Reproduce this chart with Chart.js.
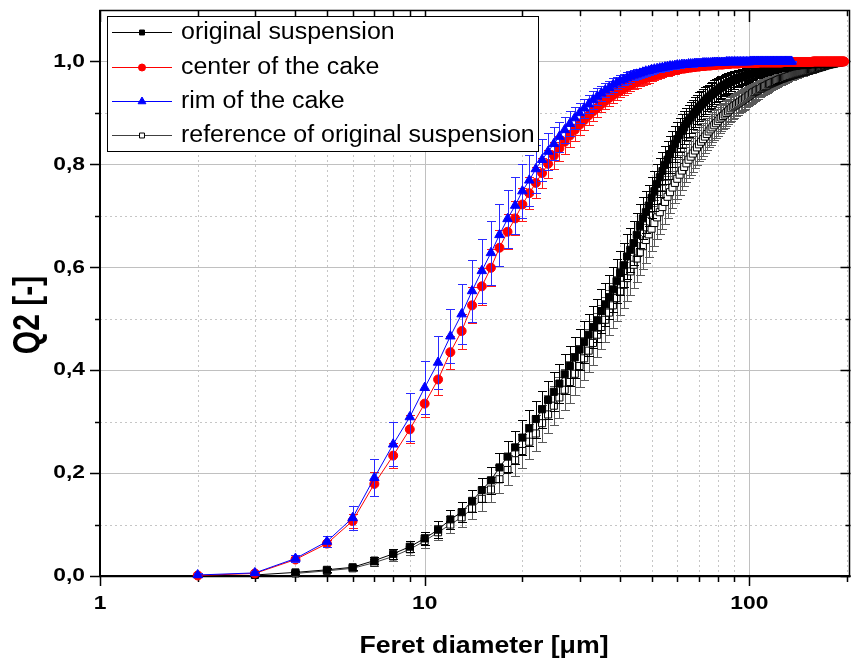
<!DOCTYPE html>
<html>
<head>
<meta charset="utf-8">
<script src="https://cdn.jsdelivr.net/npm/chart.js@4.4.1/dist/chart.umd.min.js"></script>
<style>
  html, body { margin: 0; padding: 0; background: #fff; }
</style>
</head>
<body>
<canvas id="myChart" width="857" height="663"></canvas>
<script>
// Feret diameter classes (um), one row = 10 classes
const feretDiameters = [
  2,3,4,5,6,7,8,9,10,11,
  12,13,14,15,16,17,18,19,20,21,
  22,23,24,25,26,27,28,29,30,31,
  32,33,34,35,36,37,38,39,40,41,
  42,43,44,45,46,47,48,49,50,51,
  52,53,54,55,56,57,58,59,60,61,
  62,63,64,65,66,67,68,69,70,71,
  72,73,74,75,76,77,78,79,80,81,
  82,83,84,85,86,87,88,89,90,91,
  92,93,94,95,96,97,98,99,100,101,
  102,103,104,105,106,107,108,109,110,111,
  112,113,114,115,116,117,118,119,120,121,
  122,123,124,125,126,127,128,129,130,131,
  132,133,134,135,136,137,138,139,140,141,
  142,143,144,145,146,147,148,149,150,151,
  152,153,154,155,156,157,158,159,160,161,
  162,163,164,165,166,167,168,169,170,171,
  172,173,174,175,176,177,178,179,180,181,
  182,183,184,185,186,187,188,189,190,191,
  192,193,194,195,196,197
];

// original suspension (filled squares)
const originalQ2 = [
  null,0.002,0.007,0.012,0.017,0.030,0.043,0.057,0.073,0.090,
  0.110,0.124,0.146,0.167,0.186,0.211,0.232,0.250,0.269,0.287,
  0.305,0.324,0.342,0.358,0.374,0.392,0.408,0.425,0.440,0.455,
  0.469,0.484,0.497,0.515,0.528,0.542,0.557,0.573,0.589,0.604,
  0.621,0.634,0.647,0.663,0.680,0.695,0.707,0.720,0.735,0.748,
  0.762,0.775,0.787,0.799,0.809,0.820,0.830,0.840,0.849,0.857,
  0.865,0.872,0.879,0.885,0.891,0.897,0.902,0.907,0.912,0.916,
  0.920,0.924,0.928,0.931,0.934,0.937,0.940,0.943,0.945,0.948,
  0.950,0.952,0.954,0.956,0.958,0.960,0.961,0.963,0.964,0.966,
  0.967,0.968,0.969,0.970,0.971,0.972,0.973,0.974,0.975,0.976,
  0.976,0.977,0.978,0.978,0.979,0.980,0.980,0.981,0.982,0.982,
  0.983,0.983,0.984,0.984,0.985,0.985,0.986,0.986,0.987,0.987,
  0.987,0.988,0.988,0.988,0.989,0.989,0.989,0.990,0.990,0.990,
  0.990,0.991,0.991,0.991,0.991,0.992,0.992,0.992,0.992,0.993,
  0.993,0.993,0.993,0.993,0.993,0.994,0.994,0.994,0.994,0.994,
  0.994,0.995,0.995,0.995,0.995,0.995,0.995,0.995,0.995,0.995,
  0.995,0.996,0.996,0.996,0.996,0.996,0.996,0.996,0.996,0.996,
  0.996,0.996,0.996,0.997,0.997,0.997,0.997,0.997,0.997,0.997,
  0.997,0.997,0.997,0.997,0.998,0.998,0.998,0.998,0.998,0.999,
  0.999,1.000
];
const originalErr = [
  null,0.001,0.003,0.004,0.005,0.007,0.009,0.011,0.013,0.016,
  0.018,0.020,0.022,0.024,0.026,0.028,0.030,0.032,0.034,0.035,
  0.036,0.036,0.037,0.038,0.038,0.039,0.039,0.040,0.040,0.041,
  0.041,0.041,0.042,0.042,0.042,0.043,0.043,0.043,0.043,0.043,
  0.043,0.043,0.042,0.042,0.042,0.041,0.041,0.040,0.040,0.039,
  0.039,0.038,0.038,0.037,0.037,0.036,0.035,0.035,0.034,0.033,
  0.033,0.032,0.031,0.031,0.030,0.029,0.029,0.028,0.028,0.027,
  0.026,0.026,0.025,0.024,0.024,0.023,0.023,0.022,0.022,0.021,
  0.021,0.020,0.020,0.019,0.019,0.018,0.018,0.017,0.017,0.016,
  0.016,0.016,0.015,0.015,0.014,0.014,0.014,0.013,0.013,0.012,
  0.012,0.012,0.011,0.011,0.011,0.010,0.010,0.010,0.010,0.009,
  0.009,0.009,0.009,0.009,0.008,0.008,0.008,0.008,0.008,0.008,
  0.008,0.007,0.007,0.007,0.007,0.007,0.007,0.007,0.006,0.006,
  0.006,0.006,0.006,0.005,0.005,0.005,0.005,0.005,0.005,0.005,
  0.005,0.005,0.005,0.004,0.004,0.004,0.004,0.004,0.004,0.004,
  0.004,0.004,0.004,0.003,0.003,0.003,0.003,0.003,0.003,0.003,
  0.003,0.003,0.003,0.003,0.003,0.002,0.002,0.002,0.002,0.002,
  0.002,0.002,0.002,0.002,0.002,0.002,0.002,0.002,0.002,0.002,
  0.002,0.002,0.002,0.002,0.002,0.001,0.001,0.001,0.001,0.001,
  0.001,0.001
];

// center of the cake (red circles)
const centerQ2 = [
  0.001,0.005,0.032,0.063,0.107,0.179,0.234,0.285,0.335,0.382,
  0.435,0.476,0.526,0.563,0.599,0.638,0.669,0.695,0.722,0.744,
  0.764,0.783,0.801,0.817,0.831,0.844,0.856,0.867,0.877,0.886,
  0.895,0.903,0.910,0.917,0.923,0.929,0.934,0.939,0.943,0.947,
  0.951,0.954,0.957,0.960,0.963,0.965,0.967,0.969,0.971,0.973,
  0.975,0.976,0.978,0.979,0.980,0.981,0.982,0.983,0.984,0.985,
  0.986,0.986,0.987,0.988,0.988,0.989,0.989,0.990,0.990,0.991,
  0.991,0.991,0.992,0.992,0.992,0.993,0.993,0.993,0.994,0.994,
  0.994,0.994,0.995,0.995,0.995,0.995,0.996,0.996,0.996,0.996,
  0.996,0.996,0.997,0.997,0.997,0.997,0.997,0.997,0.997,0.997,
  0.997,0.997,0.997,0.997,0.997,0.998,0.998,0.998,0.998,0.998,
  0.998,0.998,0.998,0.998,0.998,0.998,0.998,0.998,0.998,0.998,
  0.998,0.998,0.998,0.998,0.998,0.999,0.999,0.999,0.999,0.999,
  0.999,0.999,0.999,0.999,0.999,0.999,0.999,0.999,0.999,0.999,
  0.999,0.999,0.999,0.999,0.999,0.999,0.999,0.999,0.999,0.999,
  0.999,0.999,0.999,0.999,0.999,1.000,1.000,1.000,1.000,1.000,
  1.000,1.000,1.000,1.000,1.000,1.000,1.000,1.000,1.000,1.000,
  1.000,1.000,1.000,1.000,1.000,1.000,1.000,1.000,1.000,1.000,
  1.000,1.000,1.000,1.000,1.000,1.000,1.000,1.000,1.000,1.000,
  1.000,1.000,1.000,1.000,1.000
];
const centerErr = [
  0.002,0.003,0.005,0.007,0.013,0.023,0.024,0.027,0.026,0.030,
  0.032,0.034,0.035,0.036,0.036,0.035,0.034,0.033,0.032,0.031,
  0.030,0.029,0.027,0.026,0.025,0.023,0.022,0.021,0.020,0.019,
  0.018,0.018,0.017,0.016,0.015,0.015,0.014,0.014,0.013,0.013,
  0.012,0.012,0.011,0.011,0.011,0.010,0.010,0.010,0.009,0.009,
  0.009,0.008,0.008,0.008,0.008,0.007,0.007,0.007,0.007,0.006,
  0.006,0.006,0.006,0.006,0.006,0.006,0.006,0.006,0.006,0.005,
  0.005,0.005,0.005,0.005,0.005,0.005,0.005,0.005,0.005,0.004,
  0.004,0.004,0.004,0.004,0.004,0.004,0.004,0.004,0.004,0.003,
  0.003,0.003,0.003,0.003,0.003,0.003,0.003,0.003,0.003,0.002,
  0.002,0.002,0.002,0.002,0.002,0.002,0.002,0.002,0.002,0.002,
  0.002,0.002,0.002,0.002,0.002,0.002,0.002,0.002,0.002,0.002,
  0.002,0.002,0.002,0.002,0.002,0.001,0.001,0.001,0.001,0.001,
  0.001,0.001,0.001,0.001,0.001,0.001,0.001,0.001,0.001,0.001,
  0.001,0.001,0.001,0.001,0.001,0.001,0.001,0.001,0.001,0.001,
  0.001,0.001,0.001,0.001,0.001,0.001,0.001,0.001,0.001,0.001,
  0.001,0.001,0.001,0.001,0.001,0.001,0.001,0.001,0.001,0.001,
  0.001,0.001,0.001,0.001,0.001,0.001,0.001,0.001,0.001,0.001,
  0.001,0.001,0.001,0.001,0.001,0.001,0.001,0.001,0.001,0.001,
  0.001,0.001,0.001,0.001,0.001
];

// rim of the cake (blue triangles)
const rimQ2 = [
  0.002,0.006,0.034,0.067,0.113,0.191,0.256,0.309,0.366,0.415,
  0.466,0.509,0.554,0.593,0.628,0.663,0.694,0.720,0.748,0.769,
  0.791,0.809,0.825,0.840,0.854,0.867,0.879,0.890,0.900,0.909,
  0.917,0.925,0.932,0.938,0.944,0.949,0.954,0.958,0.962,0.965,
  0.968,0.971,0.973,0.975,0.977,0.979,0.981,0.982,0.984,0.985,
  0.986,0.987,0.988,0.989,0.990,0.991,0.991,0.992,0.993,0.993,
  0.994,0.994,0.994,0.995,0.995,0.995,0.996,0.996,0.996,0.996,
  0.997,0.997,0.997,0.997,0.997,0.998,0.998,0.998,0.998,0.998,
  0.998,0.998,0.998,0.999,0.999,0.999,0.999,0.999,0.999,0.999,
  0.999,0.999,0.999,0.999,0.999,0.999,0.999,0.999,0.999,1.000,
  1.000,1.000,1.000,1.000,1.000,1.000,1.000,1.000,1.000,1.000,
  1.000,1.000,1.000,1.000,1.000,1.000,1.000,1.000,1.000,1.000,
  1.000,1.000,1.000,1.000,1.000,1.000,1.000,1.000,1.000,1.000,
  1.000,1.000,1.000,1.000
];
const rimErr = [
  0.003,0.004,0.006,0.011,0.024,0.036,0.043,0.047,0.052,0.052,
  0.053,0.058,0.061,0.062,0.062,0.060,0.056,0.055,0.053,0.050,
  0.046,0.041,0.036,0.032,0.029,0.026,0.024,0.022,0.020,0.019,
  0.018,0.017,0.016,0.015,0.014,0.013,0.013,0.012,0.012,0.011,
  0.011,0.010,0.010,0.010,0.009,0.009,0.009,0.008,0.008,0.008,
  0.007,0.007,0.007,0.007,0.006,0.006,0.006,0.006,0.006,0.005,
  0.005,0.005,0.005,0.005,0.005,0.005,0.005,0.005,0.005,0.004,
  0.004,0.004,0.004,0.004,0.004,0.004,0.004,0.004,0.004,0.003,
  0.003,0.003,0.003,0.003,0.003,0.003,0.003,0.003,0.003,0.002,
  0.002,0.002,0.002,0.002,0.002,0.002,0.002,0.002,0.002,0.001,
  0.001,0.001,0.001,0.001,0.001,0.001,0.001,0.001,0.001,0.001,
  0.001,0.001,0.001,0.001,0.001,0.001,0.001,0.001,0.001,0.001,
  0.001,0.001,0.001,0.001,0.001,0.001,0.001,0.001,0.001,0.001,
  0.001,0.001,0.001,0.001
];

// reference of original suspension (open squares)
const referenceQ2 = [
  null,null,0.005,0.010,0.015,0.026,0.038,0.052,0.068,0.085,
  0.100,0.114,0.131,0.150,0.168,0.188,0.206,0.225,0.243,0.261,
  0.277,0.297,0.314,0.331,0.347,0.362,0.377,0.393,0.408,0.423,
  0.438,0.453,0.469,0.484,0.498,0.512,0.526,0.540,0.553,0.566,
  0.579,0.592,0.605,0.617,0.629,0.641,0.653,0.664,0.675,0.686,
  0.697,0.707,0.717,0.727,0.737,0.746,0.755,0.764,0.772,0.780,
  0.788,0.795,0.802,0.809,0.815,0.821,0.827,0.833,0.839,0.844,
  0.849,0.854,0.859,0.864,0.868,0.872,0.876,0.880,0.884,0.888,
  0.891,0.894,0.897,0.900,0.903,0.906,0.909,0.912,0.914,0.916,
  0.918,0.920,0.922,0.924,0.926,0.928,0.930,0.932,0.934,0.936,
  0.938,0.940,0.941,0.943,0.944,0.946,0.947,0.948,0.950,0.951,
  0.952,0.953,0.955,0.956,0.957,0.958,0.959,0.960,0.961,0.962,
  0.963,0.964,0.965,0.966,0.967,0.967,0.968,0.969,0.970,0.970,
  0.971,0.972,0.972,0.973,0.974,0.974,0.975,0.976,0.976,0.977,
  0.977,0.978,0.978,0.979,0.979,0.980,0.980,0.981,0.981,0.982,
  0.982,0.983,0.983,0.984,0.984,0.985,0.985,0.986,0.986,0.987,
  0.987,0.988,0.988,0.989,0.989,0.990,0.990,0.991,0.991,0.992,
  0.992,0.993,0.993,0.994,0.994,0.994,0.995,0.995,0.995,0.996,
  0.996,0.996,0.997,0.997,0.997,0.998,0.998,0.998,0.999,0.999,
  1.000
];
const referenceErr = [
  null,null,0.003,0.004,0.005,0.007,0.009,0.011,0.013,0.015,
  0.017,0.019,0.021,0.023,0.025,0.027,0.029,0.031,0.033,0.034,
  0.035,0.036,0.037,0.038,0.039,0.040,0.040,0.041,0.041,0.042,
  0.042,0.043,0.043,0.043,0.044,0.044,0.044,0.044,0.045,0.045,
  0.045,0.045,0.045,0.045,0.044,0.044,0.044,0.044,0.044,0.044,
  0.043,0.043,0.042,0.042,0.041,0.041,0.040,0.040,0.039,0.039,
  0.038,0.038,0.037,0.036,0.036,0.035,0.035,0.034,0.033,0.033,
  0.032,0.032,0.031,0.030,0.030,0.029,0.029,0.028,0.028,0.027,
  0.027,0.026,0.026,0.025,0.025,0.024,0.024,0.023,0.023,0.022,
  0.022,0.021,0.021,0.021,0.020,0.020,0.019,0.019,0.019,0.018,
  0.018,0.018,0.017,0.017,0.017,0.016,0.016,0.016,0.015,0.015,
  0.015,0.014,0.014,0.014,0.013,0.013,0.013,0.012,0.012,0.012,
  0.012,0.011,0.011,0.011,0.011,0.010,0.010,0.010,0.010,0.009,
  0.009,0.009,0.009,0.009,0.008,0.008,0.008,0.008,0.008,0.008,
  0.007,0.007,0.007,0.007,0.007,0.007,0.006,0.006,0.006,0.006,
  0.006,0.006,0.006,0.006,0.006,0.005,0.005,0.005,0.005,0.005,
  0.005,0.005,0.005,0.005,0.005,0.004,0.004,0.004,0.004,0.004,
  0.004,0.004,0.004,0.004,0.004,0.003,0.003,0.003,0.003,0.003,
  0.003,0.003,0.003,0.003,0.003,0.002,0.002,0.002,0.002,0.002,
  0.002
];

const seriesLabels = ['original suspension', 'center of the cake', 'rim of the cake', 'reference of original suspension'];

// axis ticks
const xMajorTicks = [1, 10, 100];
const xMinorTicks = [2, 3, 4, 5, 6, 7, 8, 9, 20, 30, 40, 50, 60, 70, 80, 90, 200];
const xTickLabels = ['1', '10', '100'];
const yMajorTicks = [0, 0.2, 0.4, 0.6, 0.8, 1.0];
const yMinorTicks = [0.1, 0.3, 0.5, 0.7, 0.9];
const yTickLabels = ['0,0', '0,2', '0,4', '0,6', '0,8', '1,0'];

const xTitle = 'Feret diameter [\u03bcm]';
const yTitle = 'Q2 [-]';

function toPoints(values, errors) {
  const pts = [];
  values.forEach((v, i) => {
    if (v === null) return;
    pts.push({ x: feretDiameters[i], y: v, err: errors[i] });
  });
  return pts;
}

function stretchText(c, text, x, y, font, align, sx) {
  c.save();
  c.font = font;
  c.textAlign = align;
  c.textBaseline = 'middle';
  c.fillStyle = '#000';
  c.translate(x, y);
  c.scale(sx, 1);
  c.fillText(text, 0, 0);
  c.restore();
}

// error bars drawn right under each dataset
const errorBars = {
  id: 'errorBars',
  beforeDatasetDraw(chart, args) {
    const ds = chart.data.datasets[args.index];
    const yScale = chart.scales.y;
    const c = chart.ctx;
    c.save();
    c.strokeStyle = ds.errorColor;
    c.lineWidth = 1;
    c.beginPath();
    args.meta.data.forEach((pt, i) => {
      const e = ds.data[i].err;
      if (!e) return;
      const top = Math.round(yScale.getPixelForValue(ds.data[i].y + e)) + 0.5;
      const bot = Math.round(yScale.getPixelForValue(ds.data[i].y - e)) + 0.5;
      const x = Math.round(pt.x) + 0.5;
      c.moveTo(x, top); c.lineTo(x, bot);
      c.moveTo(x - 4.5, top); c.lineTo(x + 4.5, top);
      c.moveTo(x - 4.5, bot); c.lineTo(x + 4.5, bot);
    });
    c.stroke();
    c.restore();
  }
};

// grid, frame, ticks, labels, titles, legend
const frame = {
  id: 'frame',
  beforeDatasetsDraw(chart) {
    const c = chart.ctx;
    const a = chart.chartArea;
    const xs = chart.scales.x, ys = chart.scales.y;
    c.save();
    c.lineWidth = 1;
    // minor dotted grid
    c.strokeStyle = '#c6c6c6';
    c.setLineDash([2, 3]);
    c.beginPath();
    xMinorTicks.forEach(v => {
      const x = Math.round(xs.getPixelForValue(v)) + 0.5;
      c.moveTo(x, a.top); c.lineTo(x, a.bottom);
    });
    yMinorTicks.forEach(v => {
      const y = Math.round(ys.getPixelForValue(v)) + 0.5;
      c.moveTo(a.left, y); c.lineTo(a.right, y);
    });
    c.stroke();
    // major solid grid
    c.setLineDash([]);
    c.strokeStyle = '#c0c0c0';
    c.beginPath();
    xMajorTicks.slice(1).forEach(v => {
      const x = Math.round(xs.getPixelForValue(v)) + 0.5;
      c.moveTo(x, a.top); c.lineTo(x, a.bottom);
    });
    yMajorTicks.slice(1).forEach(v => {
      const y = Math.round(ys.getPixelForValue(v)) + 0.5;
      c.moveTo(a.left, y); c.lineTo(a.right, y);
    });
    c.stroke();

    // ticks
    c.strokeStyle = '#000';
    c.lineWidth = 1.5;
    c.beginPath();
    const xt = (v, lenOut, lenIn) => {
      const x = Math.round(xs.getPixelForValue(v)) + 0.5;
      c.moveTo(x, a.bottom); c.lineTo(x, a.bottom + lenOut);
      c.moveTo(x, a.top); c.lineTo(x, a.top + lenIn);
    };
    const yt = (v, lenOut, lenIn) => {
      const y = Math.round(ys.getPixelForValue(v)) + 0.5;
      c.moveTo(a.left, y); c.lineTo(a.left - lenOut, y);
      c.moveTo(a.right, y); c.lineTo(a.right - lenIn, y);
    };
    xMajorTicks.forEach(v => xt(v, 10, 12));
    xMinorTicks.forEach(v => xt(v, 6, 6));
    yMajorTicks.forEach(v => yt(v, 10, 10));
    yMinorTicks.forEach(v => yt(v, 5, 5));
    c.stroke();

    // frame
    c.lineWidth = 1.5;
    c.strokeRect(a.left, a.top + 0.5, a.right - a.left - 1, a.bottom - a.top);
    c.lineWidth = 2;
    c.beginPath();
    c.moveTo(a.left, a.top); c.lineTo(a.left, a.bottom + 1);
    c.moveTo(a.left - 1, a.bottom); c.lineTo(a.right, a.bottom);
    c.stroke();
    c.restore();

    // tick labels
    const tickFont = 'bold 19px "Liberation Sans", Arial';
    xMajorTicks.forEach((v, i) => {
      stretchText(c, xTickLabels[i], xs.getPixelForValue(v), 604, tickFont, 'center', 1.2);
    });
    yMajorTicks.forEach((v, i) => {
      stretchText(c, yTickLabels[i], 85, ys.getPixelForValue(v), tickFont, 'right', 1.2);
    });
    // titles
    stretchText(c, xTitle, 484, 647, 'bold 23px "Liberation Sans", Arial', 'center', 1.16);
    c.save();
    c.translate(29, 315);
    c.rotate(-Math.PI / 2);
    c.scale(1, 1.2);
    c.font = 'bold 30px "Liberation Sans", Arial';
    c.textAlign = 'center';
    c.textBaseline = 'middle';
    c.fillStyle = '#000';
    c.fillText(yTitle, 0, 0);
    c.restore();
  },
  afterDatasetsDraw(chart) {
    const c = chart.ctx;
    c.save();
    c.fillStyle = '#fff';
    c.fillRect(107.5, 16.5, 431, 135);
    c.strokeStyle = '#000';
    c.lineWidth = 1;
    c.strokeRect(107.5, 16.5, 431, 135);
    const rows = [32, 67, 101, 135];
    chart.data.datasets.forEach((ds, i) => {
      const y = rows[i] + 0.5;
      c.strokeStyle = ds.borderColor;
      c.lineWidth = 1;
      c.beginPath();
      c.moveTo(112, y); c.lineTo(172, y);
      c.stroke();
      c.fillStyle = ds.pointBackgroundColor;
      c.strokeStyle = ds.pointBorderColor;
      Chart.helpers.drawPoint(c, {
        pointStyle: ds.pointStyle,
        radius: ds.legendRadius,
        rotation: 0,
        borderWidth: 1
      }, 142, y);
      stretchText(c, ds.label, 181, rows[i] + 1, '23px "Liberation Sans", Arial', 'left', 1.085);
    });
    c.restore();
  }
};

const ctx = document.getElementById('myChart');

const myChart = new Chart(ctx, {
  type: 'scatter',
  data: {
    datasets: [{
      label: seriesLabels[0],
      data: toPoints(originalQ2, originalErr),
      showLine: true,
      borderColor: '#000000',
      borderWidth: 1,
      pointStyle: 'rect',
      pointRadius: 5,
      pointBackgroundColor: '#000000',
      pointBorderColor: '#000000',
      pointBorderWidth: 1,
      errorColor: '#000000',
      legendRadius: 3.5,
      order: 3
    }, {
      label: seriesLabels[1],
      data: toPoints(centerQ2, centerErr),
      showLine: true,
      borderColor: '#ff0000',
      borderWidth: 1,
      pointStyle: 'circle',
      pointRadius: 4.5,
      pointBackgroundColor: '#ff0000',
      pointBorderColor: '#ff0000',
      pointBorderWidth: 1,
      errorColor: '#ff1a1a',
      legendRadius: 3.5,
      order: 2
    }, {
      label: seriesLabels[2],
      data: toPoints(rimQ2, rimErr),
      showLine: true,
      borderColor: '#0000ff',
      borderWidth: 1,
      pointStyle: 'triangle',
      pointRadius: 5.5,
      pointBackgroundColor: '#0000ff',
      pointBorderColor: '#0000ff',
      pointBorderWidth: 1,
      errorColor: '#2a2aff',
      legendRadius: 4.5,
      order: 1
    }, {
      label: seriesLabels[3],
      data: toPoints(referenceQ2, referenceErr),
      showLine: true,
      borderColor: '#404040',
      borderWidth: 1,
      pointStyle: 'rect',
      pointRadius: 5,
      pointBackgroundColor: '#ffffff',
      pointBorderColor: '#000000',
      pointBorderWidth: 1,
      errorColor: '#5a5a5a',
      legendRadius: 3.5,
      order: 4
    }]
  },
  options: {
    responsive: false,
    devicePixelRatio: 1,
    animation: false,
    clip: false,
    layout: { padding: { left: 100, top: 10, right: 1, bottom: 87 } },
    plugins: { legend: { display: false }, tooltip: { enabled: false } },
    scales: {
      x: { type: 'logarithmic', min: 1, max: 205, display: false },
      y: { type: 'linear', min: 0, max: 1.1, display: false }
    }
  },
  plugins: [errorBars, frame]
});
</script>
</body>
</html>
